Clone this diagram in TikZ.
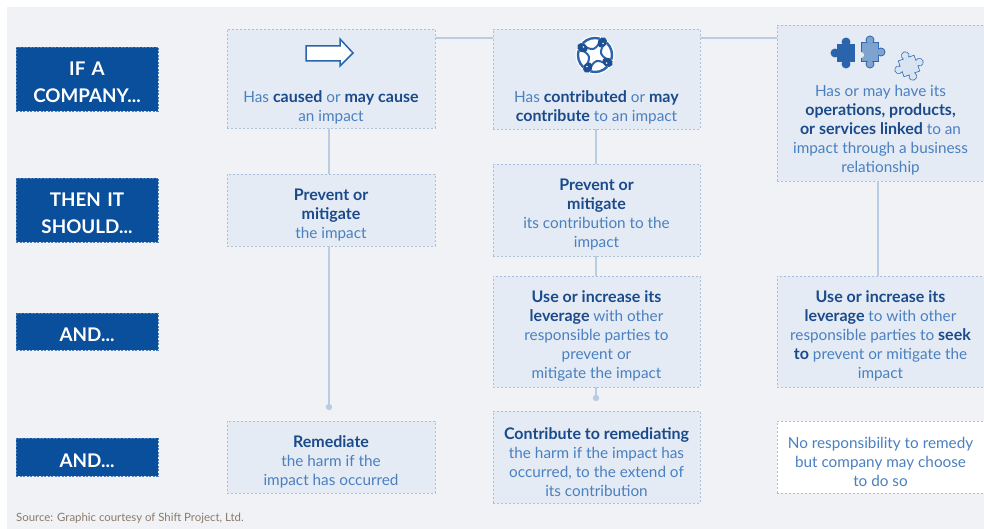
\documentclass[tikz,border=0pt]{standalone}
\usepackage{fontspec}
\setmainfont{Lato}[BoldFeatures={Scale=1.045}]
\definecolor{bgc}{HTML}{F0F2F5}
\definecolor{boxfill}{HTML}{E4EBF5}
\definecolor{boxline}{HTML}{A9C0DC}
\definecolor{labfill}{HTML}{0A4F9C}
\definecolor{labline}{HTML}{4F7FBB}
\definecolor{boldblue}{HTML}{1B4A8A}
\definecolor{txtblue}{HTML}{4A80C0}
\definecolor{linec}{HTML}{B8CCE4}
\definecolor{iconblue}{HTML}{2A64AC}
\definecolor{icondark}{HTML}{1E4F92}
\definecolor{iconmid}{HTML}{7FA3CF}
\definecolor{iconlight}{HTML}{D8E4F2}
\definecolor{srcc}{HTML}{8A7B6B}
\newcommand\hb[1]{\textbf{\color{boldblue}#1}}
\tikzset{
  box/.style={draw=boxline, fill=boxfill, line width=0.9pt, dash pattern=on 2pt off 2pt, inner sep=0pt},
  wbox/.style={box, fill=white},
  lab/.style={draw=labline, fill=labfill, line width=0.9pt, dash pattern=on 2pt off 1.5pt,
    minimum width=142pt, inner sep=0pt},
  labtxt/.style={text width=140pt, align=center, text=white,
    font=\fontsize{18}{27}\selectfont\bfseries, inner sep=0pt, yshift=-3.5pt},
  txt/.style={align=center, text=txtblue, font=\fontsize{15.3}{19}\selectfont, inner sep=0pt},
  conn/.style={draw=linec, line width=1.5pt},
}
\begin{document}
\begin{tikzpicture}[x=1pt,y=-1pt]
\useasboundingbox (0,0) rectangle (984,529);
\fill[bgc] (7,7) rectangle (984,529);

% left labels
\node[lab, minimum height=64pt, label={[labtxt]center:{IF A\\COMPANY...}}] (l1) at (87,79) {};
\node[lab, minimum height=64pt, label={[labtxt]center:{THEN IT\\SHOULD...}}] (l2) at (87,210) {};
\node[lab, minimum height=37pt, label={[labtxt]center:{AND...}}] (l3) at (87,331.5) {};
\node[lab, minimum height=38pt, label={[labtxt]center:{AND...}}] (l4) at (87,457) {};

% connector guide coordinates
\coordinate (h) at (0,38);
\coordinate (v1) at (329,0);
\coordinate (v2) at (596,0);
\coordinate (v3) at (878,0);
\coordinate (d1) at (329,407);
\coordinate (d2) at (596,398);

% boxes
\node[box, minimum width=208pt, minimum height=99pt] (c1a) at (331,78.5) {};
\node[box, minimum width=207pt, minimum height=100pt] (c2a) at (596.5,79) {};
\node[box, minimum width=207pt, minimum height=156pt] (c3a) at (880.5,103) {};
\draw[conn] (c1a.east |- h) -- (c2a.west |- h);
\draw[conn] (c2a.east |- h) -- (c3a.west |- h);

\node[box, minimum width=208pt, minimum height=72pt] (c1b) at (331,210) {};
\node[box, minimum width=208pt, minimum height=72pt] (c1c) at (331,457) {};
\node[box, minimum width=207pt, minimum height=92pt] (c2b) at (596.5,210) {};
\node[box, minimum width=207pt, minimum height=111pt] (c2c) at (596.5,331.5) {};
\node[box, minimum width=207pt, minimum height=92pt] (c2d) at (596.5,457) {};
\node[box, minimum width=207pt, minimum height=111pt] (c3b) at (880.5,331.5) {};
\node[wbox, minimum width=207pt, minimum height=72pt] (c3c) at (880.5,457) {};

\draw[conn] (c1a.south -| v1) -- (c1b.north -| v1);
\draw[conn] (c1b.south -| v1) -- (d1);
\fill[linec] (d1) circle (3.2pt);
\draw[conn] (c2a.south -| v2) -- (c2b.north -| v2);
\draw[conn] (c2b.south -| v2) -- (c2c.north -| v2);
\draw[conn] (c2c.south -| v2) -- (d2);
\fill[linec] (d2) circle (3.2pt);
\draw[conn] (c3a.south -| v3) -- (c3b.north -| v3);

% texts
\node[txt] (t1a) at (331,107.5) {Has \hb{caused} or \hb{may cause}\\an impact};
\node[txt] (t1b) at (331,215) {\hb{Prevent or}\\\hb{mitigate}\\the impact};
\node[txt] (t1c) at (331,462) {\hb{Remediate}\\the harm if the\\impact has occurred};
\node[txt] (t2a) at (596.5,107.5) {Has \hb{contributed} or \hb{may}\\\hb{contribute} to an impact};
\node[txt] (t2b) at (596.5,214.5) {\hb{Prevent or}\\\hb{mitigate}\\its contribution to the\\impact};
\node[txt] (t2c) at (596.5,336) {\hb{Use or increase its}\\\hb{leverage} with other\\responsible parties to\\prevent or\\mitigate the impact};
\node[txt] (t2d) at (596.5,462.5) {\hb{Contribute to remediating}\\the harm if the impact has\\occurred, to the extend of\\its contribution};
\node[txt] (t3a) at (880.5,130) {Has or may have its\\\hb{operations, products,}\\\hb{or services linked} to an\\impact through a business\\relationship};
\node[txt] (t3b) at (880.5,336) {\hb{Use or increase its}\\\hb{leverage} to with other\\responsible parties to \hb{seek}\\\hb{to} prevent or mitigate the\\impact};
\node[txt] (t3c) at (880.5,462) {No responsibility to remedy\\but company may choose\\to do so};

\node[anchor=west, text=srcc, font=\fontsize{11.4}{13}\selectfont, inner sep=0pt] (src) at (16,518) {Source: Graphic courtesy of Shift Project, Ltd.};

% arrow icon
\draw[iconblue, fill=white, line width=1.5pt, line join=miter]
  (306,46) -- (340,46) -- (340,39) -- (353,53) -- (340,66) -- (340,61) -- (306,61) -- cycle;

% hands icon
\begin{scope}[shift={(595,55)}]
  \fill[white] (0pt,0pt) circle (19.5pt);
  \foreach \a in {60,150,240,330}{
    \draw[iconblue, line width=2.4pt] (\a+14:17pt) arc[start angle=\a+14, end angle=\a+76, radius=17pt];
    \draw[iconblue, line width=2pt] (\a+10:12pt) .. controls (\a+45:5pt) .. (\a+80:12pt);
    \fill[icondark, rotate=\a] (14.5pt,0pt) ellipse (5.5pt and 4.5pt);
    \fill[white, rotate=\a] (14pt,-1.2pt) circle (0.9pt);
  }
\end{scope}

% puzzle icon
\begin{scope}[shift={(846,53)}]
  \draw[iconblue, line width=1.8pt] (-8pt,-8pt) rectangle (8pt,8pt) (-11pt,0pt) circle (3.5pt) (0pt,11pt) circle (3.5pt) (0pt,-11pt) circle (3.5pt);
  \fill[iconblue] (-8pt,-8pt) rectangle (8pt,8pt) (-11pt,0pt) circle (3.5pt) (0pt,11pt) circle (3.5pt) (0pt,-11pt) circle (3.5pt);
\end{scope}
\begin{scope}[shift={(870,52)}]
  \draw[iconblue, line width=1.8pt] (-8pt,-9pt) rectangle (8pt,9pt) (0pt,12pt) circle (3.5pt) (11pt,0pt) circle (3.5pt) (0pt,-12pt) circle (3.5pt);
  \fill[iconmid] (-8pt,-9pt) rectangle (8pt,9pt) (0pt,12pt) circle (3.5pt) (11pt,0pt) circle (3.5pt) (0pt,-12pt) circle (3.5pt);
  \fill[boxfill] (-8.9pt,-3pt) circle (3pt);
\end{scope}
\begin{scope}[shift={(909,66)}, rotate=20]
  \draw[iconblue, line width=1.4pt] (-8pt,-8pt) rectangle (8pt,8pt) (-11pt,0pt) circle (3.5pt) (11pt,0pt) circle (3.5pt) (0pt,11pt) circle (3.5pt) (0pt,-11pt) circle (3.5pt);
  \fill[iconlight] (-8pt,-8pt) rectangle (8pt,8pt) (-11pt,0pt) circle (3.5pt) (11pt,0pt) circle (3.5pt) (0pt,11pt) circle (3.5pt) (0pt,-11pt) circle (3.5pt);
\end{scope}
\end{tikzpicture}
\end{document}
